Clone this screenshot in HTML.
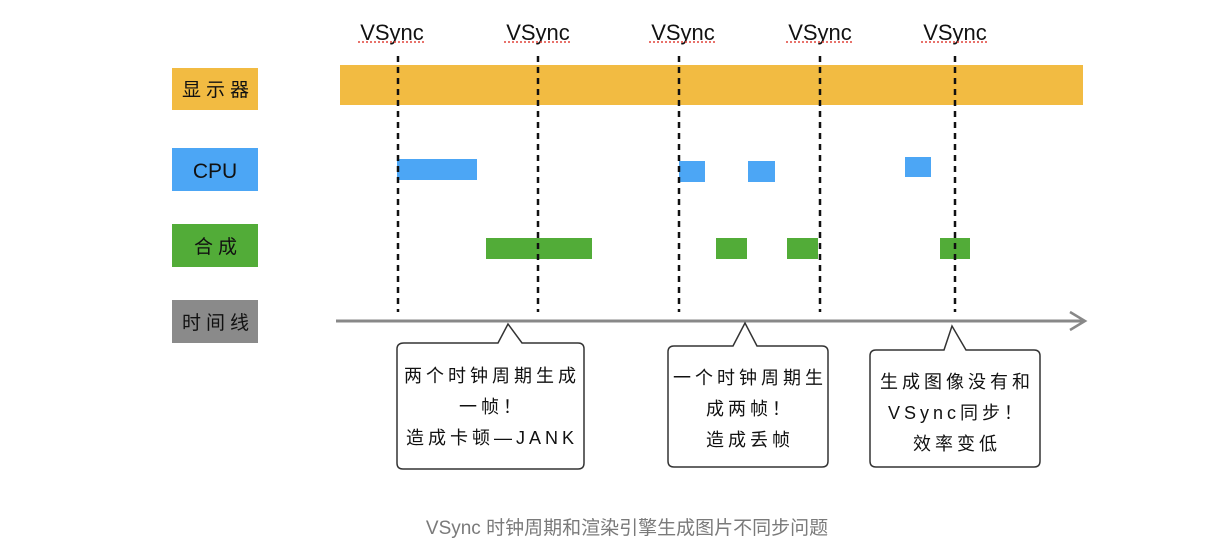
<!DOCTYPE html>
<html><head><meta charset="utf-8"><style>
html,body{margin:0;padding:0;background:#fff;width:1215px;height:554px;overflow:hidden}
svg{display:block}
.t{font-family:"Liberation Sans","Noto Sans CJK SC",sans-serif}
</style></head><body>
<svg width="1215" height="554" viewBox="0 0 1215 554" xmlns="http://www.w3.org/2000/svg">
<g class="t" font-size="22" fill="#111" text-anchor="middle">
<text x="392" y="40">VSync</text>
<text x="538" y="40">VSync</text>
<text x="683" y="40">VSync</text>
<text x="820" y="40">VSync</text>
<text x="955" y="40">VSync</text>
</g>
<g stroke="#e0443a" stroke-width="1.5" stroke-dasharray="2,2">
<line x1="358" y1="42" x2="426" y2="42"/><line x1="504" y1="42" x2="572" y2="42"/>
<line x1="649" y1="42" x2="717" y2="42"/><line x1="786" y1="42" x2="854" y2="42"/>
<line x1="921" y1="42" x2="989" y2="42"/>
</g>
<rect x="340" y="65" width="743" height="40" fill="#f2bb42"/>
<rect x="172" y="68" width="86" height="42" fill="#f2bb42"/>
<rect x="172" y="148" width="86" height="43" fill="#4ca6f5"/>
<rect x="172" y="224" width="86" height="43" fill="#52ac38"/>
<rect x="172" y="300" width="86" height="43" fill="#8a8a8a"/>
<g class="t" font-size="19" fill="#111" text-anchor="middle" letter-spacing="5">
<text x="218" y="96">显示器</text>
<text x="218" y="253">合成</text>
<text x="218" y="329">时间线</text>
</g>
<text class="t" x="215" y="178" font-size="21" fill="#111" text-anchor="middle">CPU</text>
<g fill="#4ca6f5">
<rect x="397" y="159" width="80" height="21"/>
<rect x="679" y="161" width="26" height="21"/>
<rect x="748" y="161" width="27" height="21"/>
<rect x="905" y="157" width="26" height="20"/>
</g>
<g fill="#52ac38">
<rect x="486" y="238" width="106" height="21"/>
<rect x="716" y="238" width="31" height="21"/>
<rect x="787" y="238" width="31" height="21"/>
<rect x="940" y="238" width="30" height="21"/>
</g>
<g stroke="#111" stroke-width="2.5" stroke-dasharray="6,5">
<line x1="398" y1="56" x2="398" y2="312"/>
<line x1="538" y1="56" x2="538" y2="312"/>
<line x1="679" y1="56" x2="679" y2="312"/>
<line x1="820" y1="56" x2="820" y2="312"/>
<line x1="955" y1="56" x2="955" y2="312"/>
</g>
<line x1="336" y1="321" x2="1084" y2="321" stroke="#888" stroke-width="3"/>
<polyline points="1070,312 1085,321 1070,330" fill="none" stroke="#888" stroke-width="2.5"/>
<g fill="#fff" stroke="#333" stroke-width="1.5">
<path d="M404,343 L498,343 L508,324 L522,343 L578,343 Q584,343 584,349 L584,463 Q584,469 578,469 L403,469 Q397,469 397,463 L397,349 Q397,343 404,343 Z"/>
<path d="M674,346 L733,346 L745,323 L757,346 L822,346 Q828,346 828,352 L828,461 Q828,467 822,467 L674,467 Q668,467 668,461 L668,352 Q668,346 674,346 Z"/>
<path d="M876,350 L944,350 L952,326 L966,350 L1034,350 Q1040,350 1040,356 L1040,461 Q1040,467 1034,467 L876,467 Q870,467 870,461 L870,356 Q870,350 876,350 Z"/>
</g>
<g class="t" font-size="18" fill="#111" text-anchor="middle" letter-spacing="4">
<text x="492" y="382">两个时钟周期生成</text>
<text x="492" y="413">一帧！</text>
<text x="492" y="444">造成卡顿—JANK</text>
<text x="750" y="384">一个时钟周期生</text>
<text x="750" y="415">成两帧！</text>
<text x="750" y="446">造成丢帧</text>
<text x="957" y="388">生成图像没有和</text>
<text x="957" y="419">VSync同步！</text>
<text x="957" y="450">效率变低</text>
</g>
<text class="t" x="627" y="534" font-size="19" fill="#7a7a7a" text-anchor="middle">VSync 时钟周期和渲染引擎生成图片不同步问题</text>
</svg>
</body></html>
